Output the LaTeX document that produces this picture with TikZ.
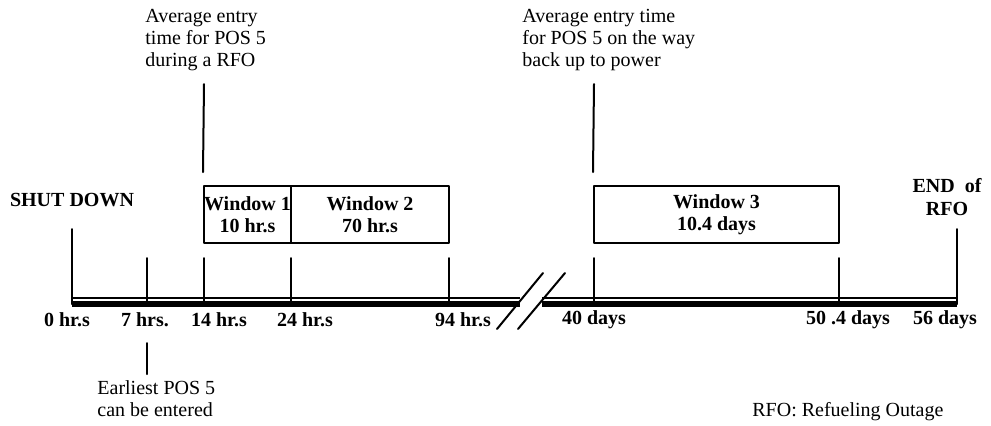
\documentclass[tikz,border=0pt]{standalone}
\usepackage{fontspec}
\setmainfont{Liberation Serif}
\begin{document}
\begin{tikzpicture}[x=0.5pt,y=-0.5pt,line join=round,line cap=round,
	font=\fontsize{10}{11}\selectfont,
	bold/.style={font=\fontsize{10}{11}\selectfont\bfseries},
	win/.style={draw,line width=1pt,bold,align=center,inner sep=0pt,minimum height=28.5pt},
	tick/.style={line width=1pt},
	note/.style={align=left,anchor=west,inner sep=0pt}]
	\def\yb{304} % axis level
	\useasboundingbox (0,0) rectangle (991,425);
	% ticks on the axis
	\foreach \n/\x/\t in {0/72/229, 7/147/258, 14/204/258, 24/291/258, 94/449/258, 40/594/258, 50/839/258, 56/957/229}{
		\coordinate (b\n) at (\x,\yb);
		\coordinate (t\n) at (\x,\t);
		\draw[tick] (b\n) -- (t\n);
	}
	% axis, broken between 94 hr.s and 40 days
	\coordinate (cutL) at (520,\yb);
	\coordinate (cutR) at (542,\yb);
	\draw[line width=3pt,line cap=butt] (b0) -- (cutL) (cutR) -- (b56);
	\draw[line width=.8pt,line cap=butt] ([yshift=3pt]b0) -- ([yshift=3pt]cutL) ([yshift=3pt]cutR) -- ([yshift=3pt]b56);
	\draw[line width=1pt] (497,329) -- (543,273) (518,329) -- (565,273);
	% labels under the axis
	\node[bold] (l0) at (67,320) {0 hr.s};
	\node[bold] (l7) at (145,320) {7 hrs.};
	\node[bold] (l14) at (219,320) {14 hr.s};
	\node[bold] (l24) at (305,320) {24 hr.s};
	\node[bold] (l94) at (463,320) {94 hr.s};
	\node[bold] (l40) at (594,320) {40 days};
	\node[bold] (l50) at (848,320) {50 .4 days};
	\node[bold] (l56) at (945,320) {56 days};
	% windows
	\node[win,minimum width=43.5pt] (w1) at (247.5,214.5) {Window 1\\10 hr.s};
	\node[win,minimum width=79pt] (w2) at (370,214.5) {Window 2\\70 hr.s};
	\node[win,minimum width=122.5pt] (w3) at (716.5,214.5) {Window 3\\10.4 days};
	\node[bold] (shut) at (72,200) {SHUT DOWN};
	\node[bold,align=center,font=\fontsize{10}{11.5}\selectfont\bfseries] (endrfo) at (947,197) {END\ \ of\\RFO};
	% notes
	\node[note] (avg1) at (145,40) {Average entry\\time for POS 5\\during a RFO};
	\node[note] (avg2) at (522,40) {Average entry time\\for POS 5 on the way\\back up to power};
	\node[note] (early) at (97,399) {Earliest POS 5\\can be entered};
	\node[note] (rfo) at (752,412) {RFO: Refueling Outage};
	\coordinate (p1) at (204,84);
	\coordinate (p2) at (594,84);
	\coordinate (p3) at (147,343);
	\draw[tick] (p1) -- ([yshift=6.5pt]w1.north west);
	\draw[tick] (p2) -- ([yshift=6.5pt]w3.north west);
	\draw[tick] (p3) -- ([yshift=-35pt]b7);
\end{tikzpicture}
\end{document}
